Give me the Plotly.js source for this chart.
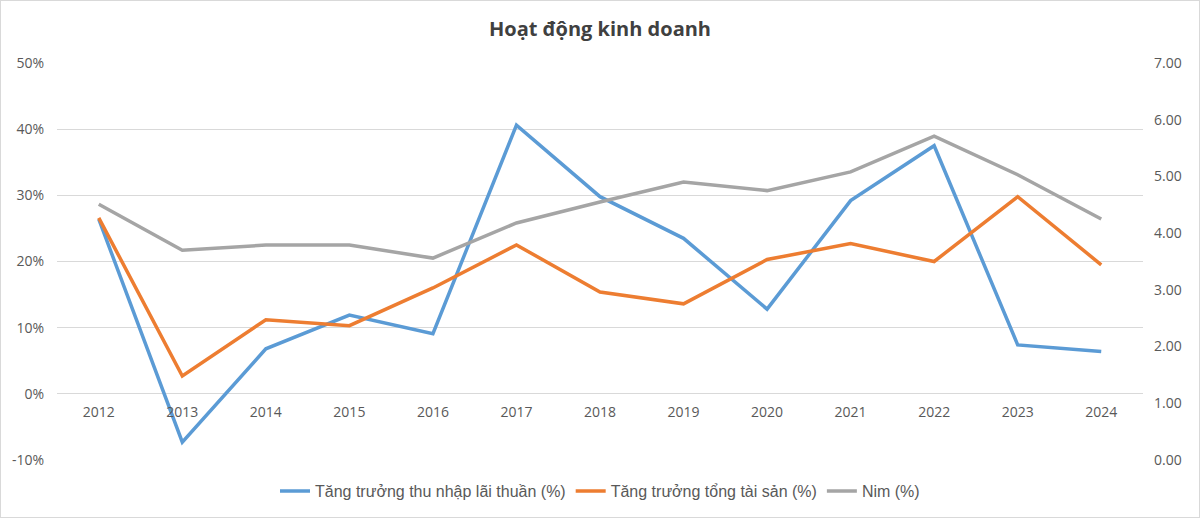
<!DOCTYPE html>
<html>
<head>
<meta charset="utf-8">
<script src="https://cdn.plot.ly/plotly-3.0.1.min.js"></script>
<style>
  body { margin: 0; background: #fff; }
  #chart { width: 1198px; height: 516px; border: 1px solid #d9d9d9; }
</style>
</head>
<body>
<div id="chart"></div>
<script>
// years on the category axis
var years = ['2012', '2013', '2014', '2015', '2016', '2017', '2018',
             '2019', '2020', '2021', '2022', '2023', '2024'];

// left axis (%)
var nimGrowth = [26.4, -7.3, 6.8, 11.9, 9.1, 40.6, 29.8, 23.5, 12.8, 29.2, 37.5, 7.4, 6.4];
var assetGrowth = [26.6, 2.7, 11.2, 10.3, 16.0, 22.5, 15.4, 13.6, 20.3, 22.7, 20.0, 29.8, 19.5];
var pctTicks = [-10, 0, 10, 20, 30, 40, 50];
var pctLabels = ['-10%', '0%', '10%', '20%', '30%', '40%', '50%'];

// right axis
var nim = [4.51, 3.70, 3.79, 3.79, 3.56, 4.18, 4.55, 4.90, 4.75, 5.08, 5.71, 5.03, 4.25];

var tickColor = '#595959';
var tickFont = {family: 'Open Sans, sans-serif', size: 14, color: tickColor};

var traces = [
  {
    x: years, y: nimGrowth, name: 'Tăng trưởng thu nhập lãi thuần (%)',
    type: 'scatter', mode: 'lines',
    line: {color: '#5B9BD5', width: 3.5}
  },
  {
    x: years, y: assetGrowth, name: 'Tăng trưởng tổng tài sản (%)',
    type: 'scatter', mode: 'lines',
    line: {color: '#ED7D31', width: 3.5}
  },
  {
    x: years, y: nim, name: 'Nim (%)', yaxis: 'y2',
    type: 'scatter', mode: 'lines',
    line: {color: '#A5A5A5', width: 3.5}
  }
];

var layout = {
  width: 1198,
  height: 516,
  paper_bgcolor: '#fff',
  plot_bgcolor: '#fff',
  margin: {l: 56, r: 56, t: 62, b: 57, autoexpand: false},
  showlegend: true,
  title: {
    text: '<b>Hoạt động kinh doanh</b>',
    font: {family: 'Open Sans, sans-serif', size: 20, color: '#404040'},
    x: 0.5, xanchor: 'center', y: 0.945, yanchor: 'middle'
  },
  font: {family: 'Open Sans, sans-serif', size: 14, color: tickColor},
  xaxis: {
    type: 'category',
    range: [-0.5, 12.5],
    anchor: 'free',
    position: 0.1662,
    showgrid: false,
    showline: false,
    zeroline: false,
    ticks: '',
    ticklabelstandoff: 8,
    tickfont: tickFont
  },
  yaxis: {
    range: [-10, 50],
    tickvals: pctTicks,
    ticktext: pctLabels,
    showgrid: true,
    gridcolor: '#d9d9d9',
    gridwidth: 1,
    zeroline: false,
    showline: false,
    ticks: '',
    ticklabelstandoff: 12,
    tickfont: tickFont
  },
  yaxis2: {
    overlaying: 'y',
    side: 'right',
    range: [0, 7],
    dtick: 1,
    tickformat: '.2f',
    showgrid: false,
    zeroline: false,
    showline: false,
    ticks: '',
    ticklabelstandoff: 10,
    tickfont: tickFont
  },
  legend: {
    orientation: 'h',
    x: 0.5, xanchor: 'center',
    yref: 'container',
    y: 0.05, yanchor: 'middle',
    font: {family: 'Liberation Sans, Arial, sans-serif', size: 16, color: tickColor},
    tracegroupgap: 0
  }
};

Plotly.newPlot('chart', traces, layout, {displayModeBar: false, staticPlot: true});
</script>
</body>
</html>
